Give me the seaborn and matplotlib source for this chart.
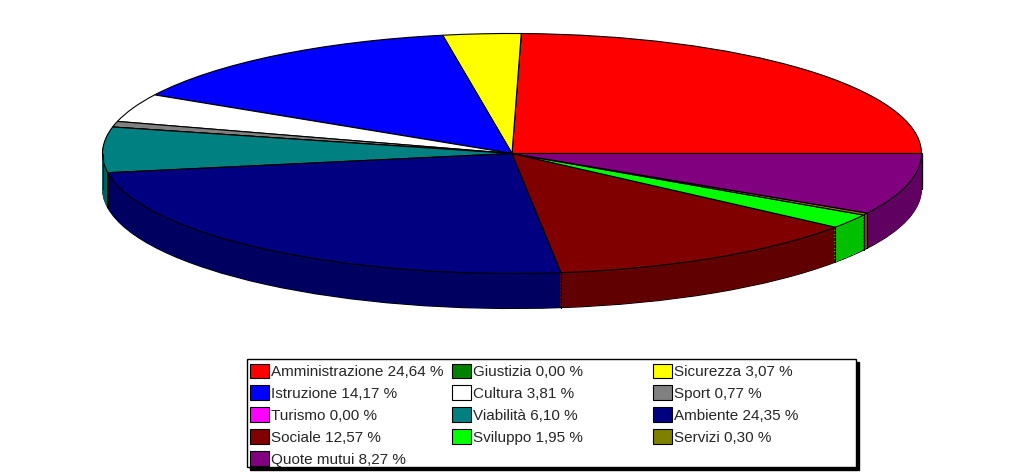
import numpy as np
import matplotlib
matplotlib.use("Agg")
import matplotlib.pyplot as plt
import seaborn as sns
from matplotlib.patches import Patch, Rectangle
from matplotlib.colors import to_rgb

sns.set_theme(style="white")
plt.rcParams['font.family'] = ['Liberation Sans', 'DejaVu Sans']

categories = ["Amministrazione", "Giustizia", "Sicurezza", "Istruzione", "Cultura",
              "Sport", "Turismo", "Viabilità", "Ambiente", "Sociale", "Sviluppo",
              "Servizi", "Quote mutui"]
values = [24.64, 0.00, 3.07, 14.17, 3.81, 0.77, 0.00, 6.10, 24.35, 12.57, 1.95, 0.30, 8.27]
colors = ["#ff0000", "#008000", "#ffff00", "#0000ff", "#ffffff", "#808080", "#ff00ff",
          "#008080", "#000080", "#800000", "#00ff00", "#808000", "#800080"]
labels = [f"{c} {v:.2f} %".replace(".", ",") for c, v in zip(categories, values)]

W, H = 1024, 474
fig = plt.figure(figsize=(W / 100, H / 100), dpi=100)

# pie geometry in pixels
cx, cy, rx, ry, depth = 512, 153.5, 409.5, 120, 35
D = depth / ry
m = 1.05
left_px = cx - m * rx
top_px = cy - m * ry
wpx = 2 * m * rx
hpx = (2 * m + D) * ry
ax = fig.add_axes([left_px / W, (H - top_px - hpx) / H, wpx / W, hpx / H])

side_colors = [tuple(0.75 * c for c in to_rgb(col)) for col in colors]

n_layers = 45
offsets = np.linspace(-D, 0, n_layers, endpoint=False)
for i, off in enumerate(offsets):
    if i == 0:
        ax.pie(values, colors=side_colors, startangle=0, counterclock=True,
               center=(0, off), radius=1,
               wedgeprops=dict(edgecolor="black", linewidth=0.8))
    else:
        ax.pie(values, colors=side_colors, startangle=0, counterclock=True,
               center=(0, off), radius=1,
               wedgeprops=dict(edgecolor="none", linewidth=0, antialiased=False))

# vertical edges on the visible front side
cum = np.cumsum([0] + values)
angles = np.deg2rad(cum / 100 * 360)
for a in angles:
    if np.sin(a) <= 1e-9:
        x, y = np.cos(a), np.sin(a)
        ax.plot([x, x], [y - D, y], color="black", lw=0.8)
ax.plot([-1, -1], [-D, 0], color="black", lw=0.8)
ax.plot([1, 1], [-D, 0], color="black", lw=0.8)

ax.pie(values, colors=colors, startangle=0, counterclock=True, center=(0, 0), radius=1,
       wedgeprops=dict(edgecolor="black", linewidth=0.8))

ax.set_aspect("auto")
ax.set_xlim(-m, m)
ax.set_ylim(-m - D, m)
ax.axis("off")

# legend frame with shadow
lx0, ly0, lx1, ly1 = 247, 359, 856, 467
fig.patches.append(Rectangle(((lx0 + 3) / W, (H - ly1 - 3) / H), (lx1 - lx0) / W, (ly1 - ly0) / H,
                             transform=fig.transFigure, facecolor="black", edgecolor="black",
                             zorder=1))
fig.patches.append(Rectangle((lx0 / W, (H - ly1) / H), (lx1 - lx0) / W, (ly1 - ly0) / H,
                             transform=fig.transFigure, facecolor="white", edgecolor="black",
                             lw=1, zorder=2))

handles = [Patch(facecolor=c, edgecolor="black", lw=0.8) for c in colors]
col_x = [250, 452, 653]
for ci in range(3):
    idx = list(range(ci, len(values), 3))
    leg = fig.legend([handles[i] for i in idx], [labels[i] for i in idx],
                     loc="upper left", bbox_to_anchor=(col_x[ci] / W, 1 - 363.5 / H),
                     frameon=False, borderpad=0, borderaxespad=0,
                     handlelength=1.24, handleheight=1.1, handletextpad=0.15,
                     labelspacing=0.42, fontsize=11.0)
    leg.set_zorder(5)

fig.savefig("out.png", dpi=100, facecolor="white")
